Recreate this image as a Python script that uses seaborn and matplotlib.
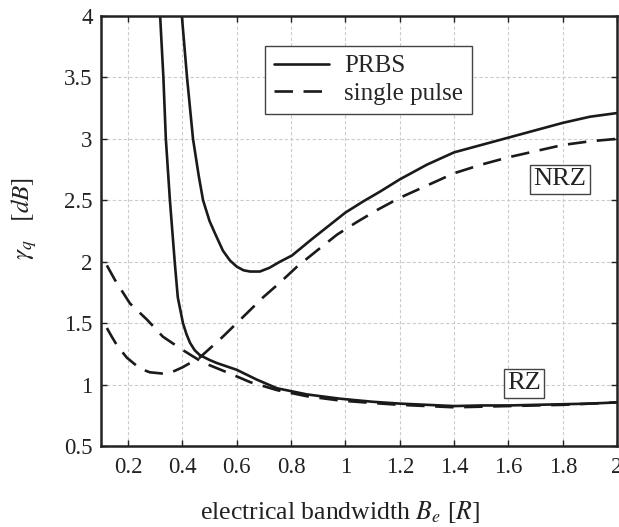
from matplotlib import pyplot as plt
from matplotlib.lines import Line2D
import seaborn as sns
import pandas as pd
import numpy as np

# NRZ, PRBS (solid)
nrz_prbs_x = [0.390, 0.398, 0.417, 0.439, 0.46, 0.476, 0.50, 0.52, 0.549, 0.575, 0.60, 0.625,
              0.649, 0.685, 0.72, 0.759, 0.803, 0.88, 0.943, 1.0, 1.065, 1.127, 1.2, 1.3,
              1.4, 1.5, 1.6, 1.7, 1.8, 1.9, 2.0]
nrz_prbs_y = [4.1, 4.0, 3.5, 3.0, 2.7, 2.5, 2.33, 2.23, 2.09, 2.01, 1.96, 1.93,
              1.92, 1.92, 1.95, 2.0, 2.05, 2.19, 2.30, 2.40, 2.49, 2.57, 2.67, 2.79,
              2.89, 2.95, 3.01, 3.07, 3.13, 3.18, 3.21]

# NRZ, single pulse (dashed)
nrz_single_x = [0.122, 0.14, 0.159, 0.195, 0.244, 0.28, 0.325, 0.36, 0.40, 0.464, 0.549, 0.637,
                0.697, 0.759, 0.822, 0.895, 0.969, 1.04, 1.116, 1.2, 1.3, 1.4, 1.5, 1.6,
                1.7, 1.8, 1.9, 2.0]
nrz_single_y = [1.46, 1.39, 1.32, 1.22, 1.13, 1.10, 1.09, 1.10, 1.14, 1.22, 1.39, 1.58,
                1.71, 1.83, 1.96, 2.09, 2.22, 2.32, 2.42, 2.52, 2.62, 2.72, 2.79, 2.85,
                2.90, 2.95, 2.98, 3.00]

# RZ, PRBS (solid)
rz_prbs_x = [0.315, 0.318, 0.33, 0.339, 0.354, 0.372, 0.383, 0.402, 0.415, 0.428, 0.445, 0.464,
             0.50, 0.527, 0.6, 0.674, 0.748, 0.858, 0.98, 1.1, 1.2, 1.3, 1.4, 1.5, 1.6,
             1.7, 1.8, 1.9, 2.0]
rz_prbs_y = [4.1, 4.0, 3.5, 3.0, 2.5, 1.99, 1.71, 1.50, 1.41, 1.34, 1.28, 1.24,
             1.20, 1.175, 1.12, 1.04, 0.97, 0.92, 0.885, 0.86, 0.845, 0.835, 0.825, 0.83, 0.83,
             0.835, 0.84, 0.845, 0.855]

# RZ, single pulse (dashed)
rz_single_x = [0.122, 0.152, 0.207, 0.269, 0.328, 0.402, 0.475, 0.575, 0.649, 0.748, 0.858, 0.98,
               1.1, 1.2, 1.3, 1.4, 1.5, 1.6, 1.7, 1.8, 1.9, 2.0]
rz_single_y = [1.97, 1.85, 1.66, 1.53, 1.39, 1.28, 1.18, 1.09, 1.02, 0.955, 0.905, 0.87,
               0.85, 0.835, 0.825, 0.815, 0.82, 0.825, 0.83, 0.835, 0.845, 0.855]

x_ticks = [0.2, 0.4, 0.6, 0.8, 1.0, 1.2, 1.4, 1.6, 1.8, 2.0]
x_tick_labels = ['0.2', '0.4', '0.6', '0.8', '1', '1.2', '1.4', '1.6', '1.8', '2']
y_ticks = [0.5, 1.0, 1.5, 2.0, 2.5, 3.0, 3.5, 4.0]
y_tick_labels = ['0.5', '1', '1.5', '2', '2.5', '3', '3.5', '4']

sns.set_style("white")
plt.rcParams['font.family'] = ['Liberation Serif', 'DejaVu Serif']
plt.rcParams['mathtext.fontset'] = 'stix'

fig = plt.figure(figsize=(6.19, 5.27), dpi=100)
ax = fig.add_axes([0.163, 0.1537, 0.834, 0.816])

dash = (0, (7, 4))
curves = [
    (nrz_prbs_x, nrz_prbs_y, '-'),
    (nrz_single_x, nrz_single_y, dash),
    (rz_prbs_x, rz_prbs_y, '-'),
    (rz_single_x, rz_single_y, dash),
]
for xs, ys, ls in curves:
    df = pd.DataFrame({'x': xs, 'y': ys})
    sns.lineplot(data=df, x='x', y='y', ax=ax, color='#1a1a1a', linewidth=1.9,
                 linestyle=ls, sort=False)

ax.set_xlim(0.1, 2.0)
ax.set_ylim(0.5, 4.0)
ax.set_xticks(x_ticks)
ax.set_xticklabels(x_tick_labels)
ax.set_yticks(y_ticks)
ax.set_yticklabels(y_tick_labels)
ax.tick_params(direction='in', length=4, width=1, colors='#222222', labelsize=16.5,
               top=True, right=True, bottom=True, left=True, labelcolor='#222222')
ax.tick_params(axis='x', pad=8)
ax.tick_params(axis='y', pad=6)
ax.grid(True, color='#cccccc', linestyle=(0, (3, 2)), linewidth=0.8)
for s in ax.spines.values():
    s.set_color('#222222')
    s.set_linewidth(1.8)

ax.set_xlabel(r'electrical bandwidth $B_e$ [$R$]', fontsize=18.5, labelpad=15, color='#222222')
ax.set_ylabel(r'$\gamma_q$   $[dB]$', fontsize=18, labelpad=18, color='#222222')
ax.xaxis.label.set_x(0.463)
ax.yaxis.label.set_y(0.53)

handles = [Line2D([0], [0], color='#1a1a1a', lw=1.9, ls='-'),
           Line2D([0], [0], color='#1a1a1a', lw=1.9, ls=dash)]
leg = ax.legend(handles, ['PRBS', 'single pulse'], loc='upper left',
                bbox_to_anchor=(0.318, 0.93), borderaxespad=0, fontsize=18, handlelength=2.2,
                fancybox=False, framealpha=1, edgecolor='#444444',
                borderpad=0.35, labelspacing=0.2, handletextpad=0.6)
leg.get_frame().set_linewidth(1.0)

box = dict(boxstyle='square,pad=0.12', facecolor='white', edgecolor='#444444', linewidth=1.0)
ax.text(1.79, 2.67, 'NRZ', fontsize=19, ha='center', va='center', bbox=box, color='#222222')
ax.text(1.657, 1.01, 'RZ', fontsize=19, ha='center', va='center', bbox=box, color='#222222')

fig.savefig('out.png', dpi=100)
